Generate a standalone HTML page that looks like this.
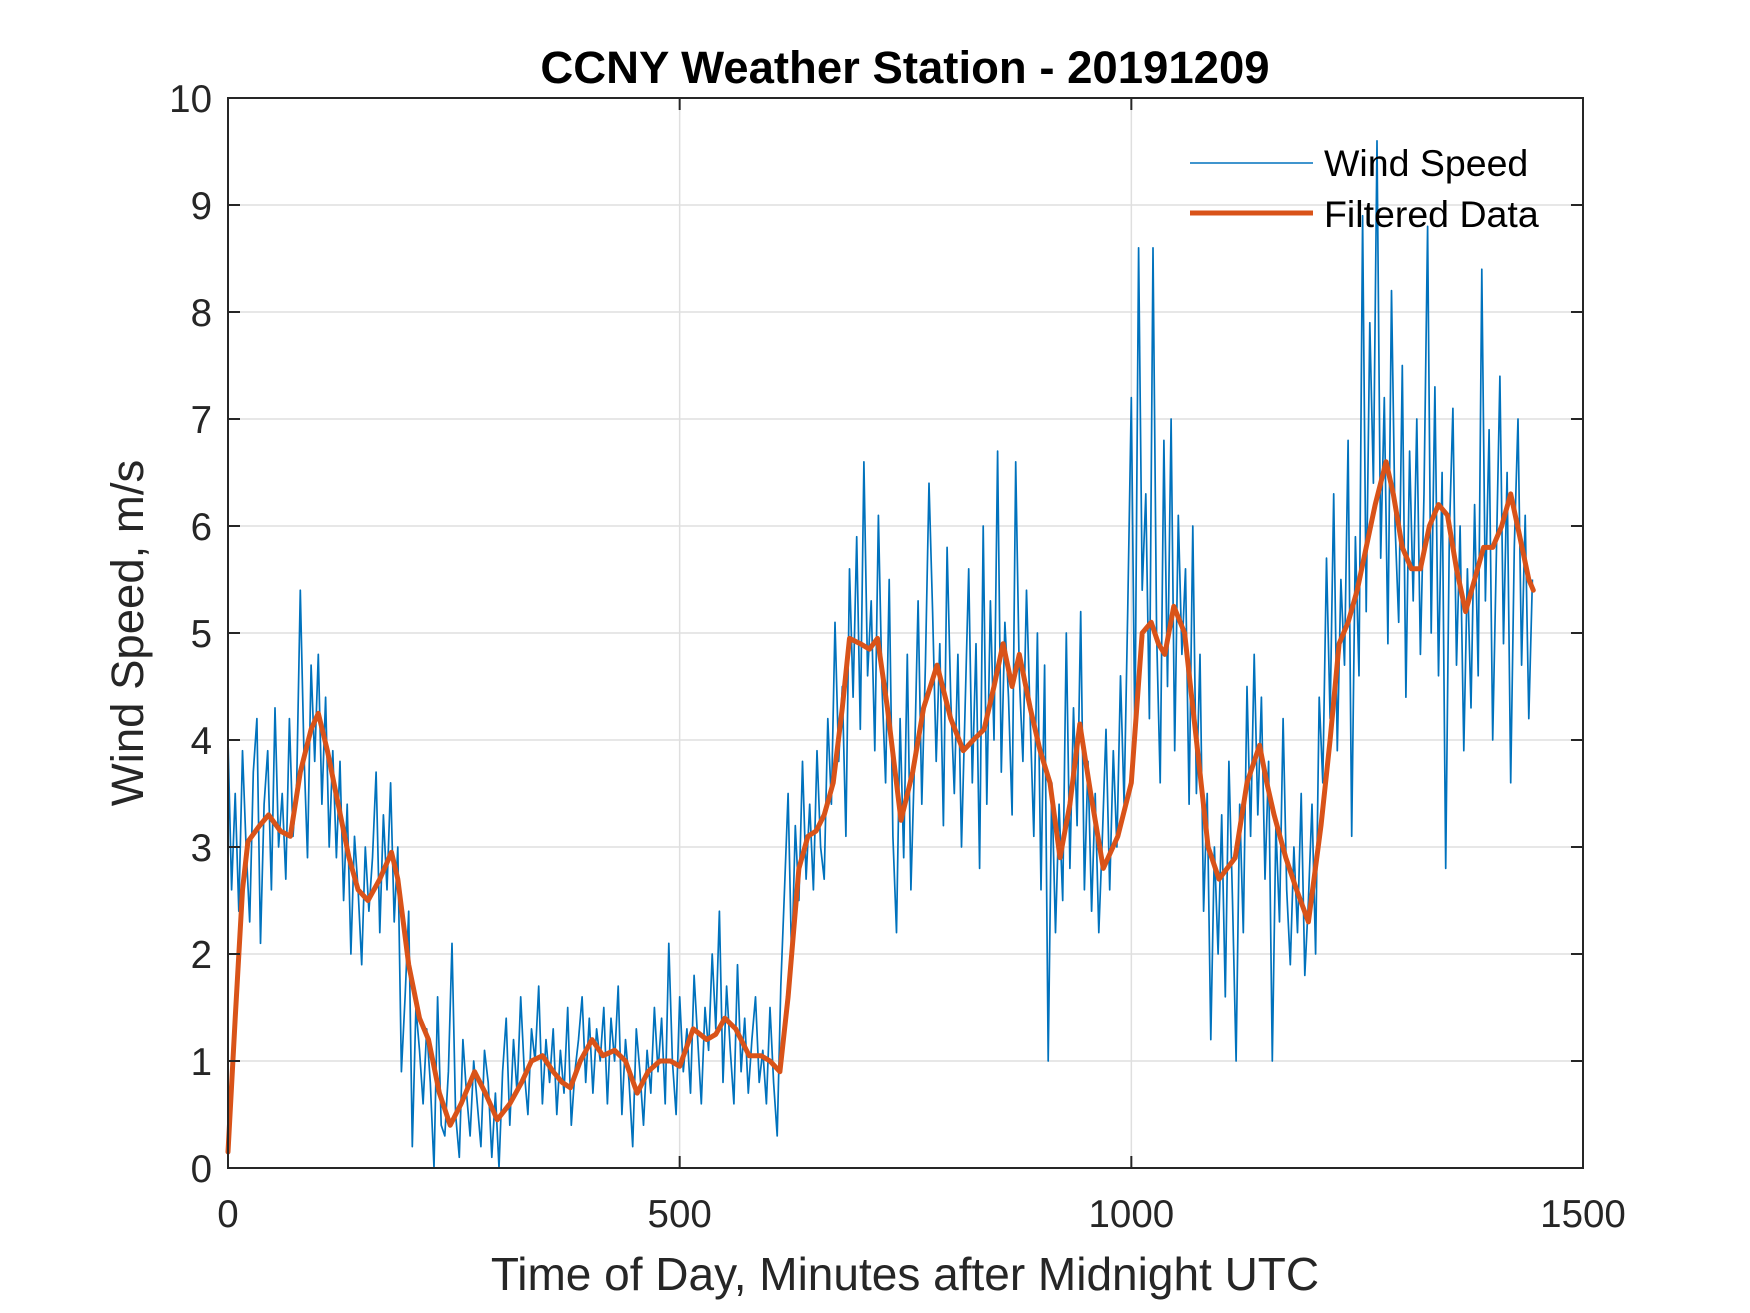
<!DOCTYPE html>
<html><head><meta charset="utf-8"><style>
body{margin:0;background:#fff}
svg{display:block;font-family:"Liberation Sans",Arial,sans-serif}
</style></head><body>
<svg id="chart" width="1750" height="1313" viewBox="0 0 1750 1313" xmlns="http://www.w3.org/2000/svg">
<rect width="1750" height="1313" fill="#fff"/>
<g id="grid"></g>
<g id="series"></g>
<rect x="228" y="98" width="1355" height="1070" fill="none" stroke="#262626" stroke-width="2"/>
<g id="ticks"></g>
<text x="905" y="83" text-anchor="middle" font-size="45.5" font-weight="bold" fill="#000">CCNY Weather Station - 20191209</text>
<text x="905" y="1290" text-anchor="middle" font-size="46" fill="#262626">Time of Day, Minutes after Midnight UTC</text>
<text transform="translate(143,633) rotate(-90)" text-anchor="middle" font-size="45.5" fill="#262626">Wind Speed, m/s</text>
<g>
<line x1="1190" y1="163" x2="1313" y2="163" stroke="#0072BD" stroke-width="1.6"/>
<text x="1324" y="176" font-size="37.5" fill="#000">Wind Speed</text>
<line x1="1190" y1="213" x2="1313" y2="213" stroke="#D95319" stroke-width="5"/>
<text x="1324" y="227" font-size="37.5" fill="#000">Filtered Data</text>
</g>
</svg>
<script>
const xTicks=[0,500,1000,1500];
const yTicks=[0,1,2,3,4,5,6,7,8,9,10];
const rawStep=4;
const windSpeed=[
4.0,2.6,3.5,2.4,3.9,3.0,2.3,3.7,4.2,2.1,3.4,3.9,2.6,4.3,3.0,
3.5,2.7,4.2,3.1,3.6,5.4,3.9,2.9,4.7,3.8,4.8,3.4,4.4,3.0,3.9,
2.9,3.8,2.5,3.4,2.0,3.1,2.6,1.9,3.0,2.4,2.9,3.7,2.2,3.3,2.6,
3.6,2.3,3.0,0.9,1.6,2.4,0.2,1.5,1.1,0.6,1.3,0.8,0.0,1.6,0.4,
0.3,0.9,2.1,0.5,0.1,1.2,0.7,0.3,1.0,0.6,0.2,1.1,0.8,0.1,0.7,
0.0,0.9,1.4,0.4,1.2,0.7,1.6,0.9,0.5,1.3,1.0,1.7,0.6,1.2,0.8,
1.3,0.5,1.1,0.7,1.5,0.4,0.9,1.2,1.6,0.8,1.4,0.7,1.3,1.0,1.5,
0.6,1.4,1.0,1.7,0.5,1.2,0.8,0.2,1.3,0.9,0.4,1.1,0.7,1.5,0.9,
1.4,0.6,2.1,1.0,0.5,1.6,0.9,1.3,0.7,1.8,1.2,0.6,1.5,1.1,2.0,
1.3,2.4,0.8,1.7,1.1,0.6,1.9,0.9,1.4,0.7,1.2,1.6,0.8,1.1,0.6,
1.5,0.8,0.3,1.7,2.6,3.5,1.9,3.2,2.5,3.8,2.7,3.4,2.6,3.9,3.0,
2.7,4.2,3.4,5.1,3.8,4.5,3.1,5.6,4.4,5.9,4.1,6.6,4.6,5.3,3.9,
6.1,4.5,3.6,5.5,3.1,2.2,4.2,2.9,4.8,2.6,3.8,5.3,3.4,4.7,6.4,
5.2,3.8,4.9,3.2,5.8,4.4,3.5,4.8,3.0,4.3,5.6,3.6,4.9,2.8,6.0,
3.4,5.3,4.0,6.7,3.7,5.1,4.4,3.3,6.6,4.6,3.8,5.4,4.2,3.1,5.0,
2.6,4.7,1.0,3.6,2.2,3.4,2.5,5.0,2.8,4.3,3.2,5.2,2.6,3.8,2.4,
3.5,2.2,3.1,4.1,2.6,3.9,3.0,4.6,3.4,5.2,7.2,4.0,8.6,5.4,6.3,
4.2,8.6,5.0,3.6,6.8,4.5,7.0,3.9,6.1,4.8,5.6,3.4,6.0,3.5,4.8,
2.4,3.5,1.2,3.0,2.0,3.3,1.6,3.8,2.5,1.0,3.4,2.2,4.5,3.1,4.8,
3.3,4.4,2.7,3.8,1.0,3.2,2.3,4.2,2.6,1.9,3.0,2.2,3.5,1.8,2.5,
3.4,2.0,4.4,3.6,5.7,4.2,6.3,3.9,5.5,4.7,6.8,3.1,5.9,4.6,8.9,
5.2,7.9,6.4,9.6,5.7,7.2,4.9,8.2,6.0,5.1,7.5,4.4,6.7,5.3,7.0,
4.8,6.3,8.8,5.0,7.3,4.6,6.5,2.8,5.9,7.1,4.7,6.0,3.9,5.6,4.3,
6.2,4.6,8.4,5.3,6.9,4.0,5.7,7.4,4.9,6.5,3.6,5.8,7.0,4.7,6.1,
4.2,5.5];
const filtTime=[0,8,16,22,35,45,58,69,80,92,100,110,122,134,144,155,168,181,188,200,212,222,234,246,258,273,285,298,312,325,336,348,360,370,379,390,403,415,428,440,453,465,478,490,500,515,530,540,550,562,577,590,600,611,620,632,642,651,660,670,680,688,700,710,719,730,745,758,770,785,800,814,825,837,848,858,868,876,888,899,910,921,932,943,955,969,985,1000,1012,1022,1030,1037,1047,1059,1072,1085,1097,1115,1128,1142,1150,1158,1171,1183,1196,1210,1220,1230,1240,1250,1260,1270,1282,1290,1300,1310,1320,1330,1340,1350,1360,1370,1380,1390,1400,1410,1420,1430,1440,1445];
const filtValue=[0.15,1.4,2.6,3.05,3.2,3.3,3.15,3.1,3.7,4.1,4.25,3.9,3.4,2.9,2.6,2.5,2.7,2.95,2.7,1.9,1.4,1.2,0.7,0.4,0.6,0.9,0.7,0.45,0.6,0.8,1.0,1.05,0.9,0.8,0.75,1.0,1.2,1.05,1.1,1.0,0.7,0.9,1.0,1.0,0.95,1.3,1.2,1.25,1.4,1.3,1.05,1.05,1.0,0.9,1.6,2.8,3.1,3.15,3.3,3.6,4.3,4.95,4.9,4.85,4.95,4.3,3.25,3.7,4.3,4.7,4.2,3.9,4.0,4.1,4.5,4.9,4.5,4.8,4.3,3.9,3.6,2.9,3.4,4.15,3.5,2.8,3.1,3.6,5.0,5.1,4.9,4.8,5.25,5.0,4.0,3.0,2.7,2.9,3.6,3.95,3.6,3.3,2.9,2.6,2.3,3.2,4.0,4.9,5.1,5.4,5.8,6.2,6.6,6.3,5.8,5.6,5.6,6.0,6.2,6.1,5.6,5.2,5.5,5.8,5.8,6.0,6.3,5.9,5.5,5.4];

const L=228,R=1583,T=98,B=1168;
const xs=v=>L+(v-0)/(1500-0)*(R-L);
const ys=v=>B-(v-0)/(10-0)*(B-T);
const NS='http://www.w3.org/2000/svg';
function mk(tag,attrs,parent){const e=document.createElementNS(NS,tag);for(const k in attrs)e.setAttribute(k,attrs[k]);parent.appendChild(e);return e;}
const grid=document.getElementById('grid'),ticks=document.getElementById('ticks'),series=document.getElementById('series');
xTicks.forEach(t=>{
  const x=xs(t);
  if(t>0&&t<1500){const g=mk('line',{x1:x,y1:T,x2:x,y2:B,stroke:'#dfdfdf','stroke-width':1.5},grid);
  
  }
  [[B,B-12],[T,T+12]].forEach(p=>{const tk=mk('line',{x1:x,y1:p[0],x2:x,y2:p[1],stroke:'#262626','stroke-width':2},ticks);
  
  });
  const lb=mk('text',{x:x,y:1227,'text-anchor':'middle','font-size':38.5,fill:'#262626'},ticks);
  lb.textContent=t;
  
  
});
yTicks.forEach(t=>{
  const y=ys(t);
  if(t>0&&t<10){const g=mk('line',{x1:L,y1:y,x2:R,y2:y,stroke:'#dfdfdf','stroke-width':1.5},grid);
  
  }
  [[L,L+12],[R,R-12]].forEach(p=>{const tk=mk('line',{x1:p[0],y1:y,x2:p[1],y2:y,stroke:'#262626','stroke-width':2},ticks);
  
  });
  const lb=mk('text',{x:L-16,y:y+14,'text-anchor':'end','font-size':38.5,fill:'#262626'},ticks);
  lb.textContent=t;
  
  
});
const rawPts=windSpeed.map((v,i)=>xs(Math.min(i*rawStep,1444)).toFixed(1)+','+ys(v).toFixed(1)).join(' ');
const rl=mk('polyline',{points:rawPts,fill:'none',stroke:'#0072BD','stroke-width':1.7,'stroke-linejoin':'round'},series);


const fPts=filtTime.map((t,i)=>xs(t).toFixed(1)+','+ys(filtValue[i]).toFixed(1)).join(' ');
const fl=mk('polyline',{points:fPts,fill:'none',stroke:'#D95319','stroke-width':5,'stroke-linejoin':'round','stroke-linecap':'round'},series);


</script>
</body></html>
